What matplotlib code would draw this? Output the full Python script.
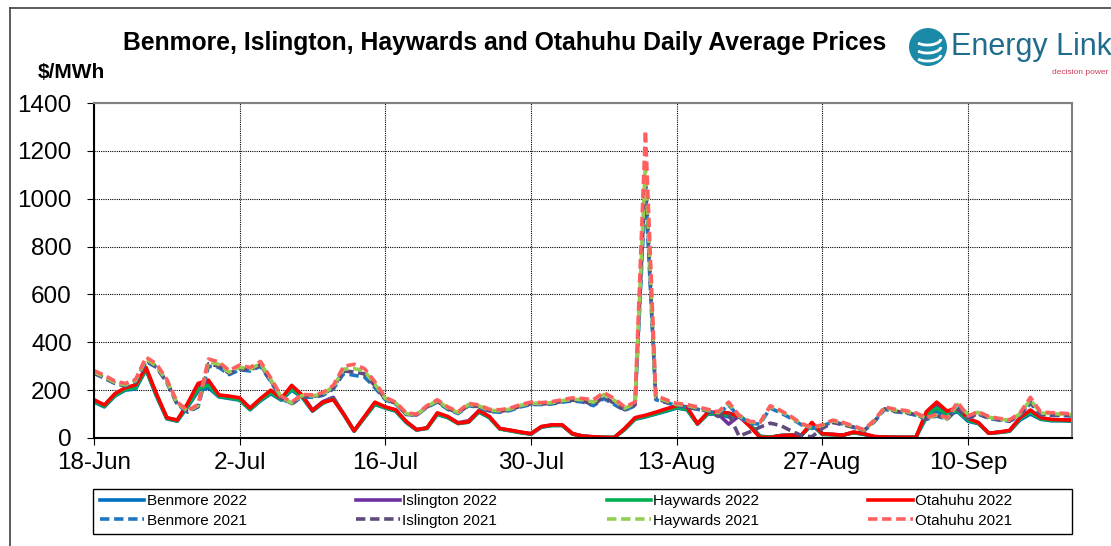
import matplotlib
matplotlib.use('Agg')
import matplotlib.pyplot as plt
import pandas as pd
from matplotlib.lines import Line2D
from matplotlib.patches import Ellipse, Arc, Rectangle

plt.rcParams['font.family'] = ['Liberation Sans', 'DejaVu Sans']

# daily average prices, $/MWh, starting 18-Jun
start_date = '2022-06-18'
tick_labels = ['18-Jun', '2-Jul', '16-Jul', '30-Jul', '13-Aug', '27-Aug', '10-Sep']

benmore_2022 = [150, 130, 175, 200, 205, 285, 175, 80, 70, 130, 195, 210, 172, 165, 158, 118, 155, 185, 158, 200,
                170, 112, 145, 165, 98, 28, 85, 140, 125, 112, 65, 33, 40, 98, 85, 60, 66, 108, 85, 38,
                30, 22, 16, 45, 52, 52, 16, 7, 4, 2, 2, 35, 78, 88, 100, 112, 125, 118, 58, 100,
                100, 88, 95, 60, 8, 3, 10, 12, 12, 55, 15, 14, 12, 22, 15, 5, 3, 3, 2, 3,
                85, 110, 95, 110, 70, 60, 20, 23, 28, 75, 100, 78, 72, 72, 70]
islington_2022 = [157, 136, 182, 207, 215, 290, 182, 84, 74, 140, 215, 230, 178, 172, 165, 123, 162, 195, 163, 212,
                  178, 117, 152, 170, 100, 30, 88, 146, 128, 116, 68, 35, 42, 103, 88, 64, 72, 113, 88, 39,
                  32, 24, 18, 47, 54, 54, 18, 8, 5, 3, 2, 38, 82, 92, 104, 118, 130, 125, 60, 104,
                  100, 58, 92, 55, 5, 2, 10, 12, 12, 62, 17, 15, 12, 24, 17, 6, 4, 3, 3, 3,
                  100, 135, 105, 122, 78, 63, 20, 24, 30, 82, 110, 82, 76, 75, 74]
haywards_2022 = [153, 133, 178, 203, 210, 288, 178, 82, 72, 135, 205, 220, 175, 168, 160, 120, 158, 190, 160, 205,
                 174, 114, 147, 163, 99, 29, 86, 143, 126, 114, 66, 34, 41, 100, 86, 61, 67, 110, 86, 38,
                 31, 23, 17, 46, 53, 53, 17, 7, 4, 2, 2, 36, 80, 90, 102, 115, 128, 120, 59, 102,
                 102, 95, 95, 58, 6, 3, 10, 12, 12, 58, 16, 14, 12, 23, 16, 5, 3, 3, 2, 3,
                 95, 125, 100, 115, 75, 62, 20, 24, 29, 80, 108, 80, 74, 73, 72]
otahuhu_2022 = [160, 138, 185, 210, 222, 295, 185, 85, 75, 145, 228, 242, 180, 175, 168, 125, 165, 200, 165, 220,
                180, 115, 150, 160, 100, 30, 90, 150, 130, 118, 70, 35, 42, 105, 90, 62, 68, 115, 90, 40,
                33, 25, 18, 48, 55, 55, 18, 8, 5, 3, 2, 40, 85, 95, 108, 122, 135, 130, 60, 108,
                108, 105, 90, 50, 3, 2, 10, 12, 12, 65, 18, 15, 12, 25, 18, 6, 4, 3, 3, 3,
                110, 150, 112, 128, 82, 65, 20, 25, 32, 85, 117, 85, 78, 76, 75]

benmore_2021 = [270, 250, 228, 218, 235, 320, 295, 232, 140, 108, 130, 300, 295, 265, 285, 280, 300, 235, 165, 142,
                172, 170, 178, 205, 270, 262, 255, 210, 160, 142, 98, 95, 128, 150, 120, 102, 135, 128, 110, 108,
                115, 130, 140, 140, 142, 150, 155, 150, 135, 165, 140, 115, 135, 1050, 160, 148, 135, 128, 120, 112,
                100, 138, 88, 62, 58, 125, 105, 82, 55, 40, 50, 68, 58, 45, 30, 68, 120, 110, 105, 95,
                78, 92, 78, 130, 82, 100, 82, 75, 70, 95, 145, 98, 95, 94, 92]
islington_2021 = [272, 252, 230, 220, 237, 325, 298, 235, 142, 110, 132, 310, 300, 270, 290, 284, 306, 240, 168, 144,
                  175, 173, 182, 210, 280, 276, 268, 218, 163, 144, 100, 96, 130, 153, 123, 104, 137, 131, 113, 111,
                  118, 133, 143, 142, 145, 153, 158, 155, 138, 172, 145, 118, 138, 1100, 165, 150, 138, 130, 122, 112,
                  90, 100, 8, 25, 45, 62, 52, 30, 10, 5, 40, 65, 55, 45, 31, 70, 122, 112, 107, 97,
                  80, 94, 80, 120, 85, 102, 84, 77, 72, 97, 150, 100, 97, 96, 94]
haywards_2021 = [276, 256, 232, 222, 240, 330, 302, 238, 145, 112, 136, 318, 308, 275, 296, 288, 312, 244, 170, 146,
                 178, 176, 185, 214, 288, 290, 280, 225, 166, 146, 102, 97, 132, 156, 126, 106, 140, 134, 116, 114,
                 121, 136, 146, 144, 148, 156, 162, 160, 150, 182, 158, 124, 145, 1150, 170, 155, 140, 136, 126, 116,
                 106, 145, 92, 68, 62, 132, 112, 87, 58, 43, 53, 72, 62, 48, 33, 72, 126, 116, 111, 101,
                 82, 96, 82, 140, 100, 107, 87, 79, 74, 101, 160, 104, 102, 100, 97]
otahuhu_2021 = [282, 262, 238, 228, 245, 338, 310, 245, 150, 115, 140, 330, 318, 282, 305, 295, 320, 250, 175, 150,
                182, 180, 190, 220, 300, 308, 290, 235, 170, 150, 105, 100, 135, 160, 130, 110, 145, 138, 120, 118,
                125, 140, 150, 148, 152, 160, 168, 165, 160, 190, 165, 130, 150, 1285, 178, 160, 145, 140, 130, 120,
                110, 150, 95, 70, 65, 135, 115, 90, 60, 45, 55, 75, 65, 50, 35, 75, 130, 120, 115, 105,
                85, 100, 85, 150, 92, 110, 90, 82, 76, 105, 170, 108, 106, 104, 100]

dates = pd.date_range(start_date, periods=len(otahuhu_2022), freq='D')
tick_dates = pd.date_range(start_date, periods=len(tick_labels), freq='14D')

W, H = 1111, 546
fig = plt.figure(figsize=(W / 100, H / 100), dpi=100)
ax = fig.add_axes([94 / W, 1 - 438 / H, (1072 - 94) / W, (438 - 103) / H])

lines = [
    ('Benmore 2022', benmore_2022, '#0070C0', '-'),
    ('Islington 2022', islington_2022, '#7030A0', '-'),
    ('Haywards 2022', haywards_2022, '#00B050', '-'),
    ('Otahuhu 2022', otahuhu_2022, '#FF0000', '-'),
    ('Benmore 2021', benmore_2021, '#1F77C4', '--'),
    ('Islington 2021', islington_2021, '#604A7B', '--'),
    ('Haywards 2021', haywards_2021, '#92D050', '--'),
    ('Otahuhu 2021', otahuhu_2021, '#FF5F5F', '--'),
]
handles = {}
for name, vals, color, ls in lines:
    if ls == '-':
        h, = ax.plot(dates, vals, color=color, lw=2.6, label=name)
    else:
        h, = ax.plot(dates, vals, color=color, lw=2.6, label=name, dashes=(2.6, 1.3))
    handles[name] = h

ax.set_xlim(dates[0], dates[-1])
ax.set_ylim(0, 1400)
ax.set_yticks(range(0, 1401, 200))
ax.set_xticks(tick_dates)
ax.set_xticklabels(tick_labels)
ax.tick_params(axis='both', labelsize=17.5, direction='out', length=5, color='black')
ax.tick_params(axis='x', pad=5)
ax.tick_params(axis='y', pad=11)
ax.grid(True, color='black', linestyle=(0, (1, 1)), linewidth=0.8)
ax.set_axisbelow(True)
for side in ['left', 'bottom']:
    ax.spines[side].set_color('black')
    ax.spines[side].set_linewidth(1.5)
for side in ['top', 'right']:
    ax.spines[side].set_color('#808080')
    ax.spines[side].set_linewidth(1.5)

# legend, filled row by row like the original
order = ['Benmore 2022', 'Benmore 2021', 'Islington 2022', 'Islington 2021',
         'Haywards 2022', 'Haywards 2021', 'Otahuhu 2022', 'Otahuhu 2021']
leg = fig.legend([handles[n] for n in order], order, ncol=4, loc='center left',
                 bbox_to_anchor=(97 / W, 1 - 511 / H), fontsize=11, handlelength=2.9,
                 handletextpad=0.15, labelspacing=0.35, columnspacing=7.15,
                 borderpad=0.2, frameon=False, borderaxespad=0)
fig.add_artist(Rectangle((93 / W, 1 - 534 / H), (1072 - 93) / W, 45 / H, transform=fig.transFigure,
                         facecolor='none', edgecolor='black', lw=1.0))

fig.text(505 / W, 1 - 43 / H, 'Benmore, Islington, Haywards and Otahuhu Daily Average Prices',
         ha='center', va='center', fontsize=17.8, fontweight='bold')
fig.text(38 / W, 1 - 72 / H, '$/MWh', ha='left', va='center', fontsize=15, fontweight='bold')

# Energy Link logo
fig.add_artist(Ellipse((928 / W, 1 - 47 / H), 38 / W, 38 / H, transform=fig.transFigure,
                       facecolor='#1B8AA8', edgecolor='none'))
for dy in (-8, 0, 8):
    fig.add_artist(Arc((928 / W, 1 - (47 + dy) / H), 26 / W, 12 / H, angle=20, theta1=200, theta2=340,
                       transform=fig.transFigure, color='white', lw=2))
fig.text(951 / W, 1 - 47 / H, 'Energy Link', ha='left', va='center', fontsize=22, color='#1F6C8C')
fig.text(1052 / W, 1 - 72 / H, 'decision power', ha='left', va='center', fontsize=6, color='#C8405A')

# outer chart frame
fig.add_artist(Line2D([10 / W, 1], [1 - 8 / H, 1 - 8 / H], transform=fig.transFigure, color='#404040', lw=1.2))
fig.add_artist(Line2D([10 / W, 10 / W], [0, 1 - 8 / H], transform=fig.transFigure, color='#404040', lw=1.2))

fig.savefig('out.png', dpi=100)
